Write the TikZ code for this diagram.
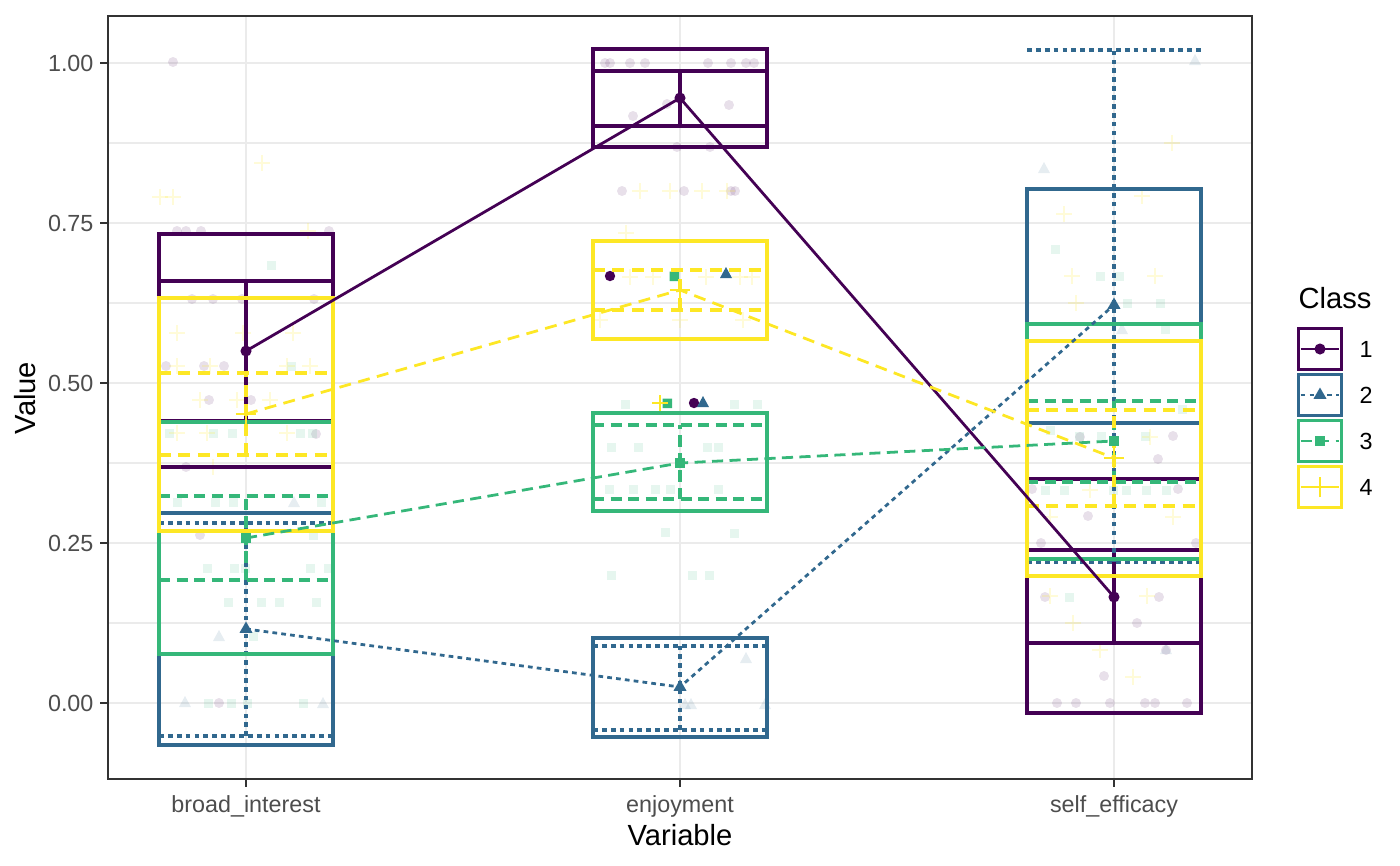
\documentclass[tikz,border=0pt]{standalone}
\usepackage{fontspec}
\setmainfont{Liberation Sans}
\usetikzlibrary{shapes.geometric,shapes.misc}
\definecolor{vir1}{HTML}{440154}
\definecolor{vir2}{HTML}{31688E}
\definecolor{vir3}{HTML}{35B779}
\definecolor{vir4}{HTML}{FDE725}
\definecolor{gridcol}{HTML}{EBEBEB}
\definecolor{axiscol}{HTML}{333333}
\definecolor{ticktext}{HTML}{4D4D4D}
\begin{document}
\begin{tikzpicture}[x=0.36pt,y=-0.36pt,
    bar/.style={line width=1.1pt},
    lty1/.style={solid},
    lty2/.style={dash pattern=on 1.7pt off 1.5pt},
    lty3/.style={dash pattern=on 4pt off 2.3pt},
    lty4/.style={dash pattern=on 4.3pt off 2.7pt},
    dot/.style={circle,fill,inner sep=0pt,minimum size=4pt},
    tri/.style={regular polygon,regular polygon sides=3,fill,inner sep=0pt,minimum size=5.4pt},
    sq/.style={rectangle,fill,inner sep=0pt,minimum size=3.5pt},
    plus/.style={cross out,draw,rotate=45,inner sep=0pt,minimum size=4.3pt,line width=1pt},
    faint/.style={opacity=0.12},
    keybox/.style={draw,line width=1.1pt,inner sep=0pt,minimum width=15.6pt,minimum height=14.9pt},
    ticklab/.style={text=ticktext,font=\fontsize{8.4}{10}\selectfont},
    title/.style={font=\fontsize{10.5}{12}\selectfont}]
  \useasboundingbox (0,0) rectangle (1400,865);

  % grid
  \foreach \y in {143,303,463,623}
    \draw[gridcol,line width=0.5pt] (108,\y) -- (1252,\y);
  \foreach \y in {63,223,383,543,703}
    \draw[gridcol,line width=1pt] (108,\y) -- (1252,\y);
  \foreach \x in {246,680,1114}
    \draw[gridcol,line width=1pt] (\x,16) -- (\x,779);

  % jittered raw values
  \foreach \x/\y in {173/62,177/231,186/231,201/231,329/231,192/299,213/299,242/299,314/299,
      166/366,204/366,224/366,209/400,251/400,316/434,186/467,200/535,219/703,
      605/63,610/63,630/63,645/63,708/63,731/63,746/63,754/63,667/104,633/116,729/105,
      677/147,710/147,622/191,684/191,731/191,735/191,
      1080/437,1173/436,1158/459,1032/489,1178/489,1088/516,1041/543,1196/543,1045/597,
      1159/597,1137/623,1166/650,1104/676,1057/703,1076/703,1110/703,1145/703,1155/703,1187/703}
    \fill[vir1,faint] (\x,\y) circle (5);
  \foreach \x/\y in {294/502,219/636,185/702,323/703,746/658,685/704,691/704,765/704,
      1195/60,1044/168,1122/329,1166/649}
    \fill[vir2,faint] (\x-6,\y+5) -- (\x+6,\y+5) -- (\x,\y-6) -- cycle;
  \foreach \x/\y in {271/265,291/366,169/433,213/433,232/433,300/433,312/433,177/502,215/502,
      233/502,321/502,313/535,207/568,234/568,245/568,310/568,328/568,228/602,261/602,279/602,
      316/602,253/636,208/703,231/703,247/703,303/703,
      625/404,734/404,757/404,611/447,638/447,707/447,718/447,609/489,633/489,655/489,670/489,
      718/489,665/532,734/533,611/575,692/575,709/575,
      1055/249,1100/276,1119/276,1127/303,1160/303,1165/329,1182/409,1050/430,1079/436,
      1101/436,1145/436,1045/490,1064/490,1113/490,1126/490,1146/490,1166/490,1069/597}
    \fill[vir3,faint] (\x-4.5,\y-4.5) rectangle ++(9,9);
  \foreach \x/\y in {160/197,173/197,262/163,308/231,177/333,243/333,293/333,177/366,210/366,
      287/366,310/366,200/400,237/400,270/400,177/433,207/433,287/433,213/467,
      640/191,670/191,702/191,727/191,626/233,630/277,653/277,706/277,740/277,752/277,
      600/320,680/320,743/320,
      1172/143,1142/196,1064/214,1072/276,1155/276,1076/303,1150/437,1090/490,1050/517,
      1173/517,1050/596,1147/596,1073/623,1100/650,1133/677}
    \draw[vir4,opacity=0.18,line width=0.5pt] (\x-8,\y) -- (\x+8,\y) (\x,\y-8) -- (\x,\y+8);
  % overlapping points at enjoyment
  \fill[vir1] (610,276) circle (5.2) (694,403) circle (5.2);
  \fill[vir3] (669.5,271.5) rectangle ++(9.5,9.5) (662.5,398.5) rectangle ++(9.5,9.5);
  \fill[vir2] (720,278) -- (732,278) -- (726,267) -- cycle (697,407) -- (709,407) -- (703,396) -- cycle;
  \draw[vir4,line width=1pt] (652,403) -- (668,403) (660,395) -- (660,411);

  % boxes (mean +/- sd) and intervals
  \begin{scope}[vir1]
    \foreach \x/\t/\b/\lo/\hi in {246/234/467/421/281,680/49/147/126/71,1114/479/713/643/550}{
      \draw[bar] (\x-87,\t) rectangle (\x+87,\b);
      \draw[bar,lty1] (\x-87,\lo) -- (\x+87,\lo) (\x,\lo) -- (\x,\hi) (\x-87,\hi) -- (\x+87,\hi);
    }
  \end{scope}
  \begin{scope}[vir2]
    \foreach \x/\t/\b/\lo/\hi in {246/513/745/736/523,680/638/737/730/646,1114/189/423/562/50}{
      \draw[bar] (\x-87,\t) rectangle (\x+87,\b);
      \draw[bar,lty2] (\x-87,\lo) -- (\x+87,\lo) (\x,\lo) -- (\x,\hi) (\x-87,\hi) -- (\x+87,\hi);
    }
  \end{scope}
  \begin{scope}[vir3]
    \foreach \x/\t/\b/\lo/\hi in {246/422/654/580/496,680/413/511/499/425,1114/324/559/482/401}{
      \draw[bar] (\x-87,\t) rectangle (\x+87,\b);
      \draw[bar,lty3] (\x-87,\lo) -- (\x+87,\lo) (\x,\lo) -- (\x,\hi) (\x-87,\hi) -- (\x+87,\hi);
    }
  \end{scope}
  \begin{scope}[vir4]
    \foreach \x/\t/\b/\lo/\hi in {246/298/531/455/373,680/241/339/310/270,1114/341/576/506/410}{
      \draw[bar] (\x-87,\t) rectangle (\x+87,\b);
      \draw[bar,lty4] (\x-87,\lo) -- (\x+87,\lo) (\x,\lo) -- (\x,\hi) (\x-87,\hi) -- (\x+87,\hi);
    }
  \end{scope}

  % class means
  \coordinate (bi1) at (246,351);  \coordinate (en1) at (680,98);  \coordinate (se1) at (1114,597);
  \coordinate (bi2) at (246,629);  \coordinate (en2) at (680,687); \coordinate (se2) at (1114,305);
  \coordinate (bi3) at (246,538);  \coordinate (en3) at (680,463); \coordinate (se3) at (1114,441);
  \coordinate (bi4) at (246,414);  \coordinate (en4) at (680,290); \coordinate (se4) at (1114,458);
  \begin{scope}[line width=1pt]
    \draw[vir1,lty1] (bi1) -- (en1) -- (se1);
    \draw[vir2,lty2] (bi2) -- (en2) -- (se2);
    \draw[vir3,lty3] (bi3) -- (en3) -- (se3);
    \draw[vir4,lty4] (bi4) -- (en4) -- (se4);
  \end{scope}
  \foreach \v in {bi,en,se}{
    \node[dot,vir1] (p\v1) at (\v1) {};
    \node[tri,vir2] (p\v2) at (\v2) {};
    \node[sq,vir3] (p\v3) at (\v3) {};
    \node[plus,vir4] (p\v4) at (\v4) {};
  }

  % panel and axes
  \draw[axiscol,line width=0.55pt] (108,16) rectangle (1252,779);
  \foreach \v/\y in {0.00/703,0.25/543,0.50/383,0.75/223,1.00/63}{
    \draw[axiscol,line width=0.6pt] (100,\y) -- (108,\y);
    \node[ticklab,anchor=east,inner sep=0pt] (ylab\y) at (94,\y) {\v};
  }
  \foreach \x/\t in {246/broad\_interest,680/enjoyment,1114/self\_efficacy}{
    \draw[axiscol,line width=0.6pt] (\x,779) -- (\x,787);
    \node[ticklab,anchor=base,inner sep=0pt] (xlab\x) at (\x,812) {\t};
  }
  \node[title,anchor=base,inner sep=0pt] (xtitle) at (680,845) {Variable};
  \node[title,rotate=90,anchor=base,inner sep=0pt] (ytitle) at (35,398) {Value};

  % legend
  \node[title,anchor=base west,inner sep=0pt] (classtitle) at (1298,308) {Class};
  \foreach \c/\y/\m/\l in {1/349/dot/lty1,2/395/tri/lty2,3/441/sq/lty3,4/487/plus/lty1}{
    \node[keybox,vir\c] (key\c) at (1320,\y) {};
    \draw[vir\c,line width=1pt,\l] ([xshift=1.4pt]key\c.west) -- ([xshift=-1.4pt]key\c.east);
    \node[\m,vir\c] (km\c) at (key\c.center) {};
    \node[ticklab,text=black,anchor=base west,inner sep=0pt] (kl\c) at (1359,\y+8) {\c};
  }
\end{tikzpicture}
\end{document}
